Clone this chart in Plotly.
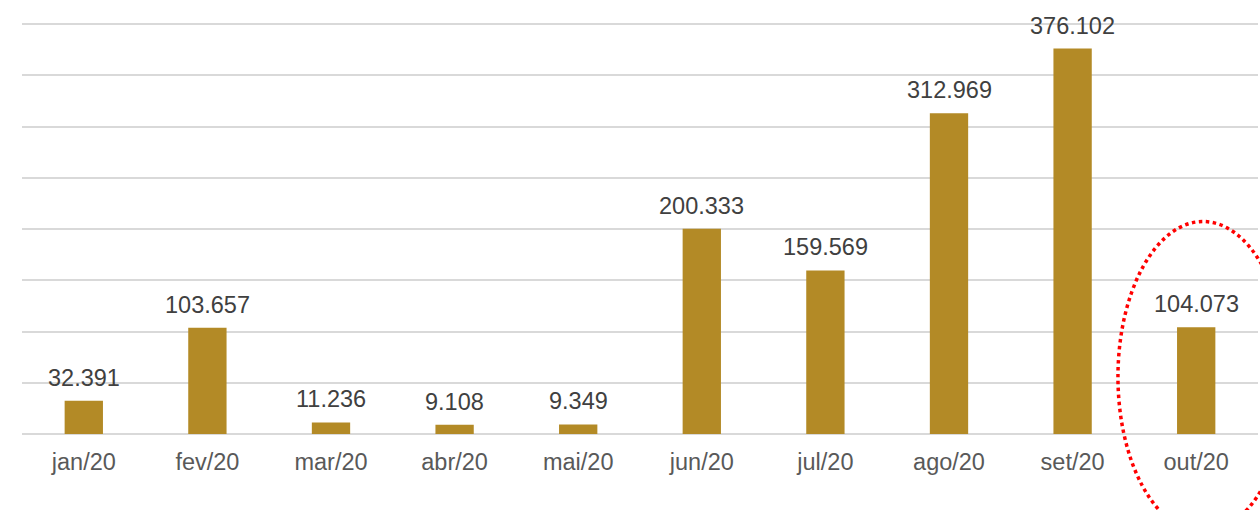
import plotly.graph_objects as go

categories = ["jan/20", "fev/20", "mar/20", "abr/20", "mai/20", "jun/20", "jul/20", "ago/20", "set/20", "out/20"]
values = [32391, 103657, 11236, 9108, 9349, 200333, 159569, 312969, 376102, 104073]

FONT = "Liberation Sans, Arial, sans-serif"

fig = go.Figure(go.Bar(
    x=categories, y=values,
    marker=dict(color="#B38A26", line=dict(width=0)),
    hoverinfo="x+y",
))

annotations = [
    dict(x=c, y=v, xref="x", yref="y", text=f"{v:,}".replace(",", "."),
         showarrow=False, yanchor="bottom", yshift=8,
         font=dict(size=23.5, color="#404040", family=FONT))
    for c, v in zip(categories, values)
]

fig.update_layout(
    width=1260, height=510,
    margin=dict(l=22, r=2, t=23, b=76, autoexpand=False),
    plot_bgcolor="white", paper_bgcolor="white",
    separators=",.",
    bargap=0.69,
    showlegend=False,
    font=dict(family=FONT, size=23.5, color="#595959"),
    xaxis=dict(showgrid=False, showline=False, ticks="", ticklabelstandoff=11,
               tickfont=dict(size=23.5, color="#595959")),
    yaxis=dict(range=[0, 401000], tickvals=[0, 50000, 100000, 150000, 200000, 250000, 300000, 350000, 400000],
               showticklabels=False, gridcolor="#D9D9D9",
               gridwidth=1.5, zeroline=True, zerolinecolor="#D9D9D9", zerolinewidth=1.5, showline=False),
    annotations=annotations,
    shapes=[dict(type="circle", xref="paper", yref="paper",
                 x0=0.8867, x1=1.0243, y0=-0.239, y1=0.517,
                 line=dict(color="#FF0000", width=3.5, dash="dot"))],
)

fig.write_html(
    "out.html",
    config={"displayModeBar": False},
    post_script="document.body.style.margin='0';document.body.style.overflow='hidden';",
)
